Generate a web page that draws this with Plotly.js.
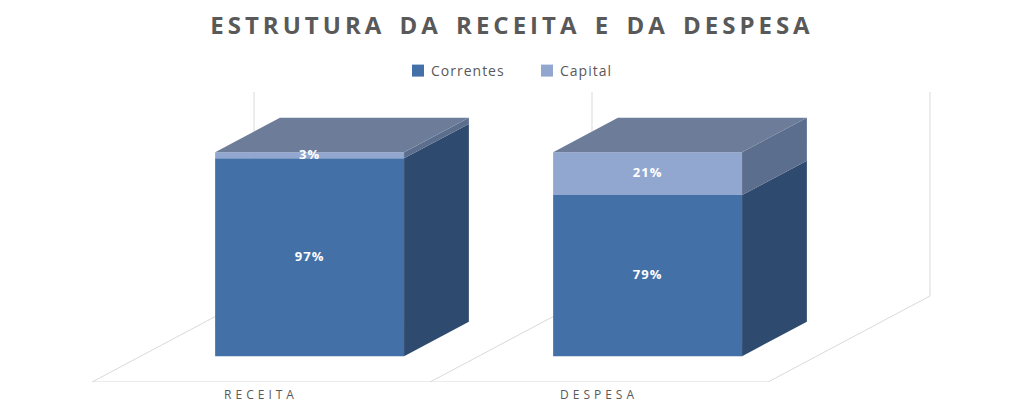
<!DOCTYPE html>
<html>
<head>
<meta charset="utf-8">
<script src="https://cdn.plot.ly/plotly-3.0.1.min.js"></script>
<style>
  html, body { margin: 0; padding: 0; background: #ffffff; }
  #chart { width: 1024px; height: 415px; outline: 2px solid #d9d9d9; outline-offset: -2px; }
  .gtitle { letter-spacing: 4px; word-spacing: 4px; }
  .xtick text { letter-spacing: 4px; }
  .textpoint text { letter-spacing: 1px; }
  .legendtext { letter-spacing: 1px; transform: translateX(-7px); }
</style>
</head>
<body>
<div id="chart"></div>
<script>
// ---- data ----
const categories = ["RECEITA", "DESPESA"];
const correntes = [97, 79];
const capital = [3, 21];
const seriesNames = ["Correntes", "Capital"];

// ---- 3D projection settings (style, not data) ----
const DEPTH_DX = 0.4793;   // x units for full floor depth
const DEPTH_DY = 42.16;    // y units for full floor depth
const D0 = 0.30, D1 = 0.70; // bar front / back depth fractions
const BAR_W = 0.559;        // bar width in category units
const WALL_H = 100;

const frontColors = ["#4371A7", "#91A7CF"];
const sideColors  = ["#2E4A6F", "#5C6E8E"];
const topColor = "#6D7C99";
const gridColor = "#d9d9d9";

function P(x, h, d) { return [x + d * DEPTH_DX, h + d * DEPTH_DY]; }

const traces = [];
const shapes = [];

// floor & wall lines
function line(a, b) {
  shapes.push({type: 'line', xref: 'x', yref: 'y', x0: a[0], y0: a[1], x1: b[0], y1: b[1],
               line: {color: gridColor, width: 1}, layer: 'below'});
}
const n = categories.length;
line(P(-0.5, 0, 0), P(n - 0.5, 0, 0));
for (let k = 0; k <= n; k++) {
  const xs = k - 0.5;
  line(P(xs, 0, 0), P(xs, 0, 1));
  line(P(xs, 0, 1), P(xs, WALL_H, 1));
}

// 3D faces (sides + top) from the data
const series = [correntes, capital];
categories.forEach((c, i) => {
  let base = 0;
  const xl = i - BAR_W / 2, xr = i + BAR_W / 2;
  series.forEach((vals, s) => {
    const b = base, t = base + vals[i];
    const pts = [P(xr, b, D0), P(xr, t, D0), P(xr, t, D1), P(xr, b, D1), P(xr, b, D0)];
    traces.push({type: 'scatter', mode: 'lines', x: pts.map(p => p[0]), y: pts.map(p => p[1]),
      fill: 'toself', fillcolor: sideColors[s], line: {width: 0}, hoverinfo: 'skip', showlegend: false});
    base = t;
  });
  const topPts = [P(xl, base, D0), P(xr, base, D0), P(xr, base, D1), P(xl, base, D1), P(xl, base, D0)];
  traces.push({type: 'scatter', mode: 'lines', x: topPts.map(p => p[0]), y: topPts.map(p => p[1]),
    fill: 'toself', fillcolor: topColor, line: {width: 0}, hoverinfo: 'skip', showlegend: false});
});

// front faces as bars
const frontX = categories.map((c, i) => P(i, 0, D0)[0]);
const floorY = P(0, 0, D0)[1];
let cum = categories.map(() => 0);
series.forEach((vals, s) => {
  traces.push({
    type: 'bar', name: seriesNames[s], x: frontX, y: vals,
    base: cum.map(v => v + floorY), width: BAR_W,
    marker: {color: frontColors[s], line: {width: 0}},
    hoverinfo: 'skip'
  });
  cum = cum.map((v, i) => v + vals[i]);
});

// value labels
let acc = categories.map(() => 0);
series.forEach((vals, s) => {
  traces.push({
    type: 'scatter', mode: 'text', x: frontX,
    y: vals.map((v, i) => floorY + acc[i] + v / 2),
    text: vals.map(v => v + '%'),
    textfont: {family: 'Open Sans', size: 13, color: '#ffffff', weight: 'bold'},
    textposition: 'middle center', hoverinfo: 'skip', showlegend: false, cliponaxis: false
  });
  acc = acc.map((v, i) => v + vals[i]);
});

const layout = {
  width: 1024, height: 415,
  margin: {l: 0, r: 0, t: 0, b: 33},
  paper_bgcolor: '#ffffff', plot_bgcolor: '#ffffff',
  barmode: 'overlay',
  title: {text: 'ESTRUTURA DA RECEITA E DA DESPESA', x: 0.5, xanchor: 'center',
          y: 1 - 26 / 415, yref: 'container', yanchor: 'middle',
          font: {family: 'Open Sans', size: 24, color: '#595959', weight: 'bold'}},
  legend: {orientation: 'h', x: 398 / 1024, xanchor: 'left', y: 1 - 71 / 382, yanchor: 'middle',
           entrywidth: 84, entrywidthmode: 'pixels',
           font: {family: 'Open Sans', size: 14, color: '#595959'}, traceorder: 'normal'},
  xaxis: {range: [-0.7722, 2.2574], tickvals: categories.map((c, i) => i), ticktext: categories,
          showgrid: false, zeroline: false, showline: false, ticks: '', ticklabelstandoff: 4,
          tickfont: {family: 'Open Sans', size: 12, color: '#595959'}, fixedrange: true},
  yaxis: {range: [0, 187.25], showgrid: false, zeroline: false, showline: false,
          showticklabels: false, ticks: '', fixedrange: true},
  shapes: shapes,
  showlegend: true
};

Plotly.newPlot('chart', traces, layout, {displayModeBar: false, staticPlot: true});
</script>
</body>
</html>
